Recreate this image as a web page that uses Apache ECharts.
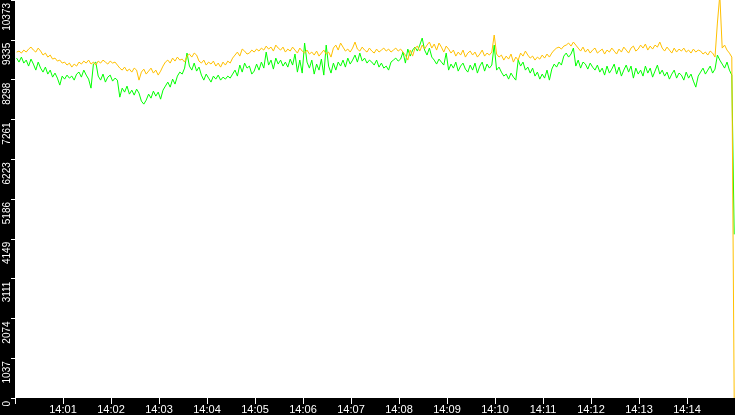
<!DOCTYPE html>
<html>
<head>
<meta charset="utf-8">
<script src="https://cdn.jsdelivr.net/npm/echarts@6/dist/echarts.min.js"></script>
<style>
html,body{margin:0;padding:0;background:#000;}
#chart{width:735px;height:415px;}
</style>
</head>
<body>
<div id="chart"></div>
<script>
// ---- data ----
const axisStart = '2024-01-01T14:00:00';
const axisEnd = '2024-01-01T14:15:00';
const sampleStart = '2024-01-01T14:00:02';
const sampleStepSeconds = 3;
const yMax = 10373;
const yTickLabels = ['0','1037','2074','3111','4149','5186','6223','7261','8298','9335','10373'];

const yellowValues = [
9016,9042,8990,9068,9016,9094,9146,9068,9016,9120,
9042,8938,8990,8885,8938,8833,8859,8781,8807,8729,
8755,8677,8729,8624,8703,8651,8755,8703,8781,8729,
8807,8703,8755,8677,8781,8729,8807,8755,8703,8781,
8729,8755,8677,8598,8546,8624,8520,8572,8494,8598,
8546,8285,8494,8572,8442,8520,8598,8468,8546,8416,
8520,8651,8755,8807,8729,8859,8781,8885,8807,8833,
8755,8911,8964,8885,8990,8938,8781,8729,8807,8677,
8755,8703,8781,8651,8729,8624,8755,8677,8781,8729,
8859,8938,9016,8911,9094,9042,8964,8990,9068,9016,
9094,9042,9120,9068,9172,9094,9146,9042,9198,9120,
9068,9146,9016,9094,9042,9146,9068,8990,9120,9042,
8990,9068,8964,9016,8938,9042,8911,8990,9068,8964,
9016,8885,9120,9198,9068,9251,9146,9042,9094,9016,
9120,9277,9094,9042,9146,9068,9016,9120,9042,8990,
9094,9016,9068,9120,9042,9094,9016,9068,9120,9042,
9094,9016,8938,8807,9068,8911,9120,9172,9042,9198,
9094,9198,9277,9120,9225,9068,9251,9146,9016,9172,
9094,8990,9068,8911,9016,8938,9068,8885,8990,9042,
8938,9016,8885,8964,9068,8911,8990,8938,9016,9460,
8964,8885,8938,8807,8911,8833,8964,8755,8885,8807,
8990,8911,9042,8938,8859,8911,8807,8885,8833,8938,
8859,8964,8885,8990,9068,9120,9146,9094,9172,9198,
9251,9172,9277,9198,9120,9042,9146,9016,9094,8990,
9068,9120,8990,9042,9094,8964,9068,9016,9120,9042,
8964,9094,9016,9146,9068,8990,9120,9172,9042,9094,
9198,9120,9225,9068,9172,9094,9198,9146,9277,9120,
9042,9146,9068,8990,9120,9016,9094,9042,9120,9016,
9068,8990,9094,9016,9068,9042,8964,9016,8938,9042,
8990,8885,9773,10500,9120,9198,9068,8990,8885,0
];

const greenValues = [
8859,8755,8885,8729,8807,8651,8833,8703,8546,8755,
8598,8494,8624,8442,8546,8363,8468,8337,8155,8390,
8311,8416,8337,8390,8285,8442,8494,8363,8546,8416,
8311,8076,8703,8755,8390,8285,8442,8233,8363,8416,
8259,8337,8285,7841,8076,7972,8129,7920,8024,7894,
8050,7946,7737,7659,7763,7920,7815,7998,7868,7972,
7789,8024,8129,8233,8102,8311,8181,8390,8494,8442,
8598,8990,8651,8546,8729,8520,8624,8416,8285,8442,
8337,8233,8390,8311,8416,8285,8363,8311,8390,8337,
8442,8546,8390,8677,8494,8729,8598,8651,8442,8520,
8703,8546,8755,8598,9016,8677,8807,8572,8859,8703,
8807,8651,8755,8624,8833,8677,8964,8494,8807,8468,
9251,8755,8598,8807,8442,8703,8546,8833,8416,9198,
8651,8468,8729,8546,8755,8651,8807,8624,8859,8703,
8807,8938,8755,8990,8781,8859,8729,8807,8755,8677,
8807,8624,8729,8598,8651,8546,8755,8807,8859,8781,
8833,9016,8729,9094,8911,9068,9146,9042,9198,9381,
9068,8938,9120,8885,8807,8703,8833,8755,8677,8990,
8546,8703,8598,8755,8520,8651,8729,8572,8494,8677,
8546,8729,8468,8651,8755,8520,8703,8598,8677,9198,
8546,8624,8494,8390,8442,8311,8468,8363,8285,8807,
8651,8755,8546,8624,8468,8598,8390,8494,8311,8442,
8337,8546,8285,8572,8703,8624,8755,8677,8911,8990,
8885,8964,9120,8651,8807,8598,8755,8703,8572,8729,
8624,8546,8677,8494,8598,8416,8651,8468,8572,8703,
8442,8624,8390,8546,8677,8494,8651,8337,8598,8442,
8546,8390,8651,8468,8598,8363,8520,8677,8442,8546,
8390,8494,8311,8442,8546,8337,8468,8416,8285,8494,
8337,8442,8259,8102,8390,8494,8598,8442,8546,8651,
8468,8572,8938,8807,8703,8598,8755,8546,8416,4265
];

// ---- build ----
const t0 = new Date(sampleStart).getTime();
const xMin = new Date(axisStart).getTime();
const xMax = new Date(axisEnd).getTime();
const toSeries = vals => vals.map((v, i) => [t0 + i * sampleStepSeconds * 1000, v]);
const yInterval = yMax / 10;
const pad2 = n => (n < 10 ? '0' : '') + n;

const chart = echarts.init(document.getElementById('chart'), null, {renderer: 'canvas'});
chart.setOption({
  animation: false,
  backgroundColor: '#000000',
  grid: {
    left: 15, right: 0, top: 0, bottom: 17,
    show: true, backgroundColor: '#ffffff', borderWidth: 0
  },
  xAxis: {
    type: 'time',
    min: xMin,
    max: xMax,
    minInterval: 60000,
    maxInterval: 60000,
    splitLine: {show: false},
    axisLine: {show: false},
    axisTick: {show: true, length: 6, lineStyle: {color: '#ffffff', width: 1}},
    axisLabel: {
      color: '#ffffff',
      fontFamily: 'Liberation Sans',
      fontSize: 11,
      margin: 6,
      formatter: function (value) {
        if (value <= xMin + 1000 || value >= xMax - 1000) return '';
        const d = new Date(value);
        return pad2(d.getHours()) + ':' + pad2(d.getMinutes());
      }
    }
  },
  yAxis: {
    type: 'value',
    min: 0,
    max: yMax,
    interval: yInterval,
    splitLine: {show: false},
    axisLine: {show: false},
    axisTick: {show: true, length: 4, lineStyle: {color: '#ffffff', width: 1}},
    axisLabel: {
      color: '#ffffff',
      fontFamily: 'Liberation Sans',
      fontSize: 10,
      rotate: 90,
      align: 'right',
      verticalAlign: 'middle',
      margin: 8,
      padding: [0, 3, 0, 0],
      formatter: function (v) { return yTickLabels[Math.round(v / yInterval)]; }
    }
  },
  series: [
    {
      name: 'green', type: 'line', data: toSeries(greenValues),
      showSymbol: false, symbol: 'none',
      lineStyle: {color: '#00ff00', width: 1},
      itemStyle: {color: '#00ff00'}
    },
    {
      name: 'yellow', type: 'line', data: toSeries(yellowValues),
      showSymbol: false, symbol: 'none',
      lineStyle: {color: '#ffc000', width: 1},
      itemStyle: {color: '#ffc000'}
    }
  ]
});
</script>
</body>
</html>
